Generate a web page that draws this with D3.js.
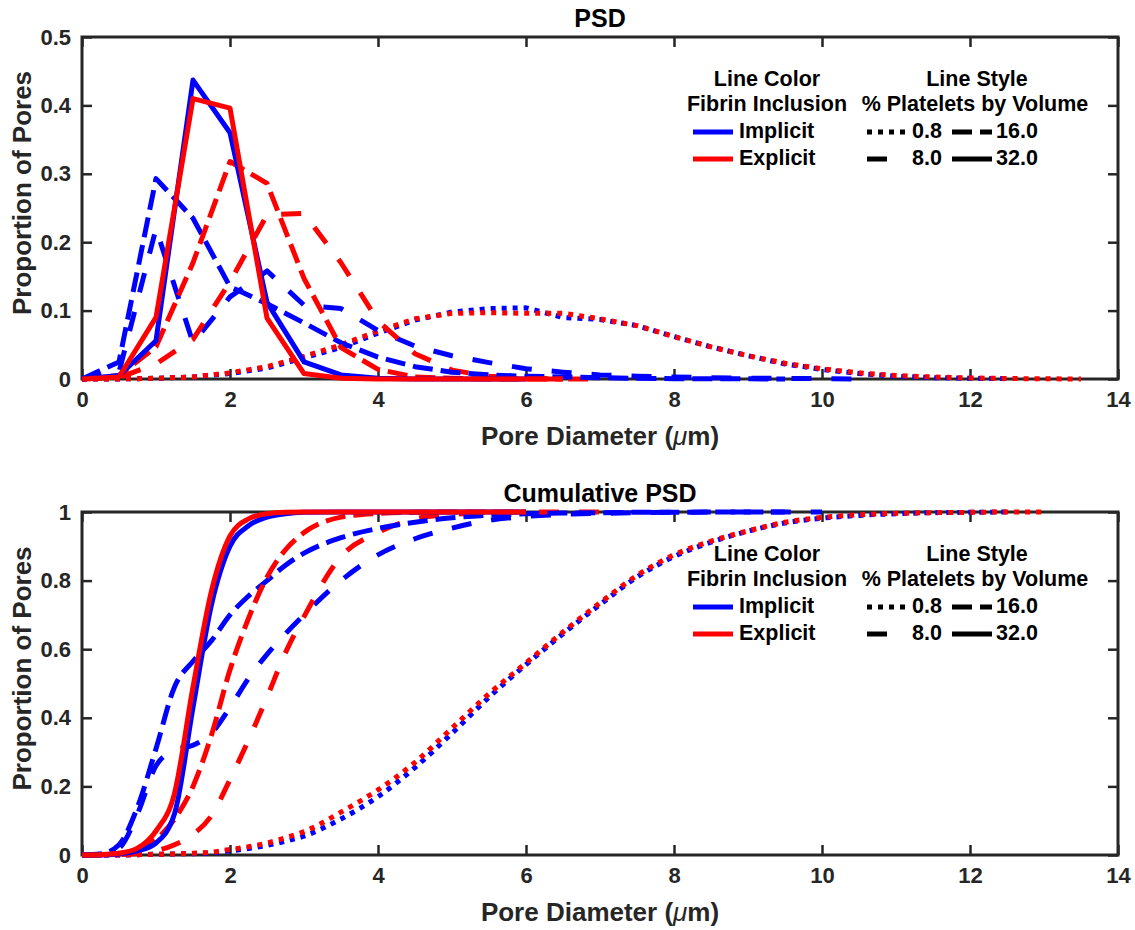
<!DOCTYPE html>
<html>
<head>
<meta charset="utf-8">
<script src="https://cdn.jsdelivr.net/npm/d3@7"></script>
<style>
    body { margin: 0; background: #fff; }
    text { font-family: "Liberation Sans", Arial, sans-serif; font-weight: bold; }
</style>
</head>
<body>
<div id="chart"></div>
<script>

// ---- data ----

// PSD: bin centres (um)
const psdX = [0, 0.5, 1, 1.5, 2, 2.5, 3, 3.5, 4, 4.5, 5, 5.5, 6, 6.5, 7, 7.5, 8, 8.5, 9, 9.5, 10, 10.5, 11, 11.5, 12, 12.5, 13, 13.5];

const psdImplicit08 = [0, 0, 0.001, 0.003, 0.008, 0.016, 0.031, 0.046, 0.067, 0.086, 0.098, 0.103, 0.104, 0.09, 0.087, 0.078, 0.062, 0.047, 0.034, 0.022, 0.014, 0.008, 0.004, 0.002, 0.001, 0.0005, null, null];
const psdExplicit08 = [0, 0, 0.001, 0.003, 0.009, 0.018, 0.033, 0.05, 0.07, 0.088, 0.096, 0.097, 0.096, 0.096, 0.088, 0.078, 0.062, 0.047, 0.034, 0.023, 0.015, 0.009, 0.005, 0.003, 0.0015, 0.0007, 0.0003, 0];
const psdImplicit8 = [0, 0.01, 0.22, 0.053, 0.12, 0.158, 0.108, 0.103, 0.071, 0.048, 0.034, 0.024, 0.015, 0.01, 0.006, 0.004, 0.003, 0.002, 0.001, 0.001, 0.0005, 0, null, null, null, null, null, null];
const psdExplicit8 = [0, 0.002, 0.022, 0.058, 0.142, 0.24, 0.242, 0.17, 0.085, 0.037, 0.013, 0.004, 0.001, 0, 0, null, null, null, null, null, null, null, null, null, null, null, null, null];
const psdImplicit16 = [0, 0.025, 0.293, 0.235, 0.135, 0.11, 0.082, 0.053, 0.032, 0.018, 0.01, 0.006, 0.004, 0.003, 0.002, 0.001, 0.0005, 0.0003, 0.0002, 0.0001, null, null, null, null, null, null, null, null];
const psdExplicit16 = [0, 0.005, 0.047, 0.17, 0.318, 0.286, 0.147, 0.046, 0.014, 0.003, 0.001, 0, 0, 0, null, null, null, null, null, null, null, null, null, null, null, null, null, null];
const psdImplicit32 = [0, 0.005, 0.056, 0.437, 0.36, 0.112, 0.025, 0.006, 0.001, 0, 0, 0, 0, null, null, null, null, null, null, null, null, null, null, null, null, null, null, null];
const psdExplicit32 = [0, 0.003, 0.09, 0.41, 0.396, 0.089, 0.008, 0.001, 0, 0, 0, 0, 0, 0, null, null, null, null, null, null, null, null, null, null, null, null, null, null];

// Cumulative PSD
const cumX = [0, 0.25, 0.5, 0.75, 1, 1.25, 1.5, 1.75, 2, 2.25, 2.5, 2.75, 3, 3.5, 4, 4.5, 5, 5.5, 6, 6.5, 7, 7.5, 8, 8.5, 9, 9.5, 10, 10.5, 11, 11.5, 12, 12.5, 13];

const cumImplicit08 = [0, 0, 0, 0.001, 0.002, 0.003, 0.004, 0.006, 0.012, 0.019, 0.028, 0.04, 0.055, 0.105, 0.17, 0.255, 0.355, 0.46, 0.555, 0.645, 0.73, 0.81, 0.87, 0.912, 0.944, 0.968, 0.982, 0.99, 0.995, 0.998, 0.999, 1, null];
const cumExplicit08 = [0, 0, 0, 0.001, 0.002, 0.003, 0.005, 0.008, 0.016, 0.024, 0.035, 0.05, 0.068, 0.125, 0.19, 0.27, 0.37, 0.47, 0.56, 0.65, 0.735, 0.815, 0.875, 0.915, 0.945, 0.97, 0.984, 0.992, 0.996, 0.998, 0.999, 1, 1];
const cumImplicit8 = [0, 0.002, 0.02, 0.12, 0.26, 0.305, 0.32, 0.355, 0.43, 0.515, 0.585, 0.645, 0.7, 0.8, 0.875, 0.922, 0.953, 0.976, 0.987, 0.993, 0.996, 0.998, 0.999, 1, 1, 1, 1, null, null, null, null, null, null];
const cumExplicit8 = [0, 0, 0.001, 0.004, 0.012, 0.03, 0.06, 0.115, 0.22, 0.335, 0.46, 0.59, 0.695, 0.87, 0.94, 0.98, 0.993, 0.998, 1, 1, 1, null, null, null, null, null, null, null, null, null, null, null, null];
const cumImplicit16 = [0, 0.003, 0.03, 0.14, 0.31, 0.49, 0.565, 0.625, 0.7, 0.755, 0.8, 0.845, 0.88, 0.925, 0.952, 0.97, 0.983, 0.991, 0.995, 0.997, 0.998, 0.999, 0.999, 1, 1, 1, null, null, null, null, null, null, null];
const cumExplicit16 = [0, 0.001, 0.005, 0.015, 0.045, 0.105, 0.2, 0.35, 0.54, 0.69, 0.81, 0.89, 0.94, 0.985, 0.996, 0.999, 1, 1, 1, null, null, null, null, null, null, null, null, null, null, null, null, null, null];
const cumImplicit32 = [0, 0, 0.003, 0.012, 0.035, 0.12, 0.43, 0.73, 0.9, 0.96, 0.985, 0.995, 0.999, 1, 1, 1, 1, 1, 1, null, null, null, null, null, null, null, null, null, null, null, null, null, null];
const cumExplicit32 = [0, 0.001, 0.005, 0.02, 0.07, 0.18, 0.49, 0.77, 0.93, 0.98, 0.995, 0.999, 1, 1, 1, 1, 1, 1, 1, null, null, null, null, null, null, null, null, null, null, null, null, null, null];

// legend / labels
const inclusions = ["Implicit", "Explicit"];
const platelets = ["0.8", "8.0", "16.0", "32.0"];
const xTicks = [0, 2, 4, 6, 8, 10, 12, 14];

const colors = {Implicit: "#0000ff", Explicit: "#ff0000"};
const dashes = {"0.8": "5,6", "8.0": "20,20", "16.0": "20,8", "32.0": null};

function series(xs, implicitArrs, explicitArrs) {
    let out = [];
    platelets.forEach(function(p, i) {
        out.push({inclusion: "Implicit", platelet: p, values: xs.map((x, j) => ({x: x, y: implicitArrs[i][j]}))});
        out.push({inclusion: "Explicit", platelet: p, values: xs.map((x, j) => ({x: x, y: explicitArrs[i][j]}))});
    });
    return out;
}

const psdSeries = series(psdX,
    [psdImplicit08, psdImplicit8, psdImplicit16, psdImplicit32],
    [psdExplicit08, psdExplicit8, psdExplicit16, psdExplicit32]);
const cumSeries = series(cumX,
    [cumImplicit08, cumImplicit8, cumImplicit16, cumImplicit32],
    [cumExplicit08, cumExplicit8, cumExplicit16, cumExplicit32]);

// ---- drawing ----
const W = 1135, H = 930;
const svg = d3.select("#chart").append("svg")
    .attr("width", W)
    .attr("height", H);

function drawPanel(opts) {
    let left = 82, right = 1118;
    let g = svg.append("g");

    let x = d3.scaleLinear().domain([0, 14]).range([left, right]);
    let y = d3.scaleLinear().domain(opts.yDomain).range([opts.bottom, opts.top]);

    let axisColor = "#262626";

    // box first, lines go on top of it (as in matlab)
    g.append("rect")
        .attr("x", left).attr("y", opts.top)
        .attr("width", right - left).attr("height", opts.bottom - opts.top)
        .attr("fill", "none")
        .attr("stroke", axisColor)
        .attr("stroke-width", 3);

    // axes with inward ticks
    let xb = g.append("g").attr("transform", `translate(0,${opts.bottom})`)
        .call(d3.axisBottom(x).tickValues(xTicks).tickSizeInner(-10).tickSizeOuter(0).tickPadding(12));
    let xt = g.append("g").attr("transform", `translate(0,${opts.top})`)
        .call(d3.axisTop(x).tickValues(xTicks).tickSizeInner(-10).tickSizeOuter(0).tickFormat(""));
    let yl = g.append("g").attr("transform", `translate(${left},0)`)
        .call(d3.axisLeft(y).tickValues(opts.yTicks).tickSizeInner(-10).tickSizeOuter(0).tickPadding(11).tickFormat(opts.yFormat));
    let yr = g.append("g").attr("transform", `translate(${right},0)`)
        .call(d3.axisRight(y).tickValues(opts.yTicks).tickSizeInner(-10).tickSizeOuter(0).tickFormat(""));

    [xb, xt, yl, yr].forEach(function(a) {
        a.select(".domain").remove();
        a.selectAll(".tick line").attr("stroke", axisColor).attr("stroke-width", 2.5);
        a.selectAll(".tick text")
            .attr("fill", axisColor)
            .style("font-size", "22px")
            .style("font-family", "'Liberation Sans', Arial, sans-serif")
            .style("font-weight", "bold");
    });

    // lines
    let line = d3.line()
        .defined(d => d.y !== null)
        .curve(opts.curve)
        .x(d => x(d.x))
        .y(d => y(d.y));

    g.append("g").selectAll("path")
        .data(opts.data)
        .enter().append("path")
        .attr("d", d => line(d.values))
        .attr("fill", "none")
        .attr("stroke", d => colors[d.inclusion])
        .attr("stroke-width", 5)
        .attr("stroke-linejoin", "round")
        .attr("stroke-dasharray", d => dashes[d.platelet]);

    // titles and axis labels
    g.append("text")
        .attr("x", 600).attr("y", opts.top - 10)
        .attr("text-anchor", "middle")
        .style("font-size", "25px")
        .text(opts.title);

    let xl = g.append("text")
        .attr("x", 600).attr("y", opts.bottom + 66)
        .attr("text-anchor", "middle")
        .attr("fill", axisColor)
        .style("font-size", "26px");
    xl.append("tspan").text("Pore Diameter (");
    xl.append("tspan").style("font-style", "italic").style("font-weight", "normal").text("\u03bc");
    xl.append("tspan").text("m)");

    g.append("text")
        .attr("transform", `translate(31,${(opts.top + opts.bottom) / 2 - 15}) rotate(-90)`)
        .attr("text-anchor", "middle")
        .attr("fill", axisColor)
        .style("font-size", "26px")
        .text("Proportion of Pores");

    // legend
    let lg = g.append("g").attr("transform", `translate(0,${opts.top})`);
    let fs = "21.5px";
    lg.append("text").attr("x", 767).attr("y", 49).attr("text-anchor", "middle").style("font-size", fs).text("Line Color");
    lg.append("text").attr("x", 767).attr("y", 74).attr("text-anchor", "middle").style("font-size", fs).text("Fibrin Inclusion");
    lg.append("text").attr("x", 977).attr("y", 49).attr("text-anchor", "middle").style("font-size", fs).text("Line Style");
    lg.append("text").attr("x", 975).attr("y", 74).attr("text-anchor", "middle").style("font-size", fs).text("% Platelets by Volume");

    inclusions.forEach(function(inc, i) {
        let yy = 95 + i * 27;
        lg.append("line").attr("x1", 693).attr("x2", 733).attr("y1", yy).attr("y2", yy)
            .attr("stroke", colors[inc]).attr("stroke-width", 5);
        lg.append("text").attr("x", 739).attr("y", yy + 6).style("font-size", fs).text(inc);
    });

    let stylePos = {"0.8": [867, 0], "16.0": [952, 0], "8.0": [867, 1], "32.0": [952, 1]};
    platelets.forEach(function(p) {
        let pos = stylePos[p];
        let yy = 95 + pos[1] * 27;
        lg.append("line").attr("x1", pos[0]).attr("x2", pos[0] + 40).attr("y1", yy).attr("y2", yy)
            .attr("stroke", "#000").attr("stroke-width", 5)
            .attr("stroke-dasharray", dashes[p]);
        lg.append("text").attr("x", pos[0] + (p.length > 3 ? 44 : 45)).attr("y", yy + 6)
            .style("font-size", fs).text(p);
    });
}

drawPanel({
    title: "PSD",
    top: 37, bottom: 379,
    yDomain: [0, 0.5],
    yTicks: [0, 0.1, 0.2, 0.3, 0.4, 0.5],
    yFormat: d => d === 0 ? "0" : d3.format(".1f")(d),
    curve: d3.curveLinear,
    data: psdSeries
});

drawPanel({
    title: "Cumulative PSD",
    top: 512, bottom: 855,
    yDomain: [0, 1],
    yTicks: [0, 0.2, 0.4, 0.6, 0.8, 1],
    yFormat: d => (d === 0 || d === 1) ? String(d) : d3.format(".1f")(d),
    curve: d3.curveMonotoneX,
    data: cumSeries
});

</script>
</body>
</html>
